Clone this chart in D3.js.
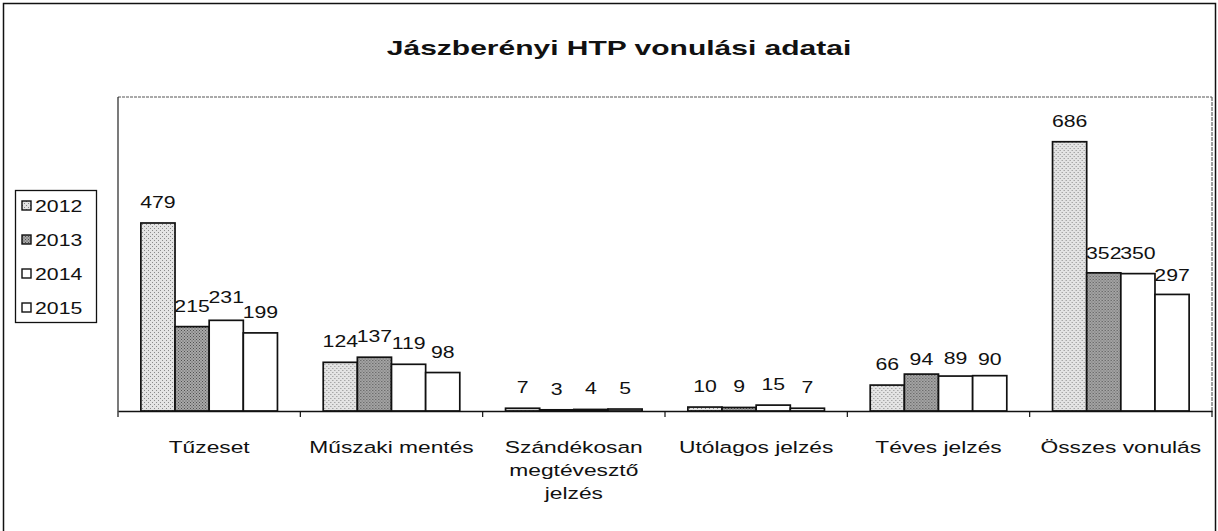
<!DOCTYPE html>
<html>
<head>
<meta charset="utf-8">
<script src="https://cdn.jsdelivr.net/npm/d3@7"></script>
<style>
  body { margin: 0; background: #fff; }
  svg { display: block; font-family: Arial, "Liberation Sans", sans-serif; }
</style>
</head>
<body>
<div id="chart"></div>
<script>
// Data
const categories = ['Tűzeset', 'Műszaki mentés', 'Szándékosan megtévesztő jelzés', 'Utólagos jelzés', 'Téves jelzés', 'Összes vonulás'];
const years = ['2012', '2013', '2014', '2015'];
const values2012 = [479, 124, 7, 10, 66, 686];
const values2013 = [215, 137, 3, 9, 94, 352];
const values2014 = [231, 119, 4, 15, 89, 350];
const values2015 = [199, 98, 5, 7, 90, 297];
const categoryLines = [['Tűzeset'], ['Műszaki mentés'], ['Szándékosan', 'megtévesztő', 'jelzés'], ['Utólagos jelzés'], ['Téves jelzés'], ['Összes vonulás']];
// small label nudges mimicking the original label collision layout
const labelShift = {'0-2': -2, '4-1': 6, '4-2': 3, '4-3': 4, '5-1': 1, '5-3': 2};

const series = [values2012, values2013, values2014, values2015];
const W = 1218, H = 531;
const plot = { left: 118, right: 1212, top: 97, bottom: 411 };
const STRETCH = 1.25; // the scanned original is wider than it is tall

const svg = d3.select('#chart').append('svg')
  .attr('width', W).attr('height', H);

// text helper: horizontally stretched text like the scan
function stext(parent, x, y, str, size, anchor = 'middle', weight = 'normal', sx = STRETCH) {
  return parent.append('text')
    .attr('transform', `translate(${x},${y}) scale(${sx},1)`)
    .attr('text-anchor', anchor)
    .attr('font-size', size).attr('font-weight', weight).attr('fill', '#111')
    .text(str);
}

// stipple patterns
const defs = svg.append('defs');
function stipple(id, base, dot, step) {
  const p = defs.append('pattern').attr('id', id)
    .attr('width', step * 2).attr('height', step * 2)
    .attr('patternUnits', 'userSpaceOnUse');
  p.append('rect').attr('width', step * 2).attr('height', step * 2).attr('fill', base);
  p.append('rect').attr('x', 0).attr('y', 0).attr('width', 1).attr('height', 1).attr('fill', dot);
  p.append('rect').attr('x', step).attr('y', step).attr('width', 1).attr('height', 1).attr('fill', dot);
}
stipple('p2012', '#e4e4e4', '#8a8a8a', 2);
stipple('p2013', '#a8a8a8', '#505050', 1.5);
const fills = ['url(#p2012)', 'url(#p2013)', '#ffffff', '#ffffff'];

// outer frame
svg.append('rect').attr('x', 3.5).attr('y', 3.5).attr('width', 1212).attr('height', 540)
  .attr('fill', 'none').attr('stroke', '#111').attr('stroke-width', 1.5);

// title
stext(svg, 619, 55, 'Jászberényi HTP vonulási adatai', 20, 'middle', 'bold', 1.5);

const x = d3.scaleBand().domain(categories).range([plot.left, plot.right]).paddingInner(0).paddingOuter(0);
const inner = d3.scaleBand().domain(years).range([0, x.bandwidth()]).paddingOuter(0.67).paddingInner(0);
const y = d3.scaleLinear().domain([0, 800]).range([plot.bottom, plot.top]);

// plot area frame
svg.append('line').attr('x1', plot.left).attr('x2', plot.right).attr('y1', plot.top).attr('y2', plot.top)
  .attr('stroke', '#555').attr('stroke-width', 1).attr('stroke-dasharray', '3,1');
svg.append('line').attr('x1', plot.left).attr('x2', plot.left).attr('y1', plot.top).attr('y2', plot.bottom)
  .attr('stroke', '#222').attr('stroke-width', 1.2);
svg.append('line').attr('x1', plot.right).attr('x2', plot.right).attr('y1', plot.top).attr('y2', plot.bottom)
  .attr('stroke', '#444').attr('stroke-width', 1).attr('stroke-dasharray', '4,1');

// bars
const groups = svg.selectAll('.group').data(categories).enter().append('g')
  .attr('class', 'group').attr('transform', d => `translate(${x(d)},0)`);

series.forEach((vals, si) => {
  groups.append('rect')
    .attr('x', (d, ci) => inner(years[si]))
    .attr('y', (d, ci) => y(vals[ci]))
    .attr('width', inner.bandwidth())
    .attr('height', (d, ci) => y(0) - y(vals[ci]))
    .attr('fill', fills[si])
    .attr('stroke', '#111').attr('stroke-width', 1.7);
  groups.each(function (d, ci) {
    stext(d3.select(this),
      inner(years[si]) + inner.bandwidth() / 2,
      y(vals[ci]) - 15 + (labelShift[ci + '-' + si] || 0),
      vals[ci], 17);
  });
});

// x axis
const xAxis = d3.axisBottom(x).tickSize(0).tickFormat('');
svg.append('g').attr('transform', `translate(0,${plot.bottom})`).call(xAxis)
  .select('.domain').attr('stroke', '#111').attr('stroke-width', 1.5);
const boundaries = categories.map(c => x(c)).concat([plot.right]);
svg.selectAll('.btick').data(boundaries).enter().append('line')
  .attr('x1', d => d).attr('x2', d => d)
  .attr('y1', plot.bottom).attr('y2', plot.bottom + 6)
  .attr('stroke', '#111').attr('stroke-width', 1.2);

// category labels
groups.each(function (d, ci) {
  categoryLines[ci].forEach((line, li) => {
    stext(d3.select(this), x.bandwidth() / 2, 453 + li * 23, line, 17, 'middle', 'normal', 1.34);
  });
});

// legend
const legend = svg.append('g').attr('transform', 'translate(15,190)');
legend.append('rect').attr('x', 0.5).attr('y', 0.5).attr('width', 81).attr('height', 132)
  .attr('fill', '#fff').attr('stroke', '#111').attr('stroke-width', 1.3);
years.forEach((yr, i) => {
  const g = legend.append('g').attr('transform', `translate(7,${15 + i * 34})`);
  g.append('rect').attr('x', 0).attr('y', -4).attr('width', 9).attr('height', 9)
    .attr('fill', fills[i]).attr('stroke', '#111').attr('stroke-width', 1.4);
  stext(g, 13, 7, yr, 17, 'start');
});
</script>
</body>
</html>
